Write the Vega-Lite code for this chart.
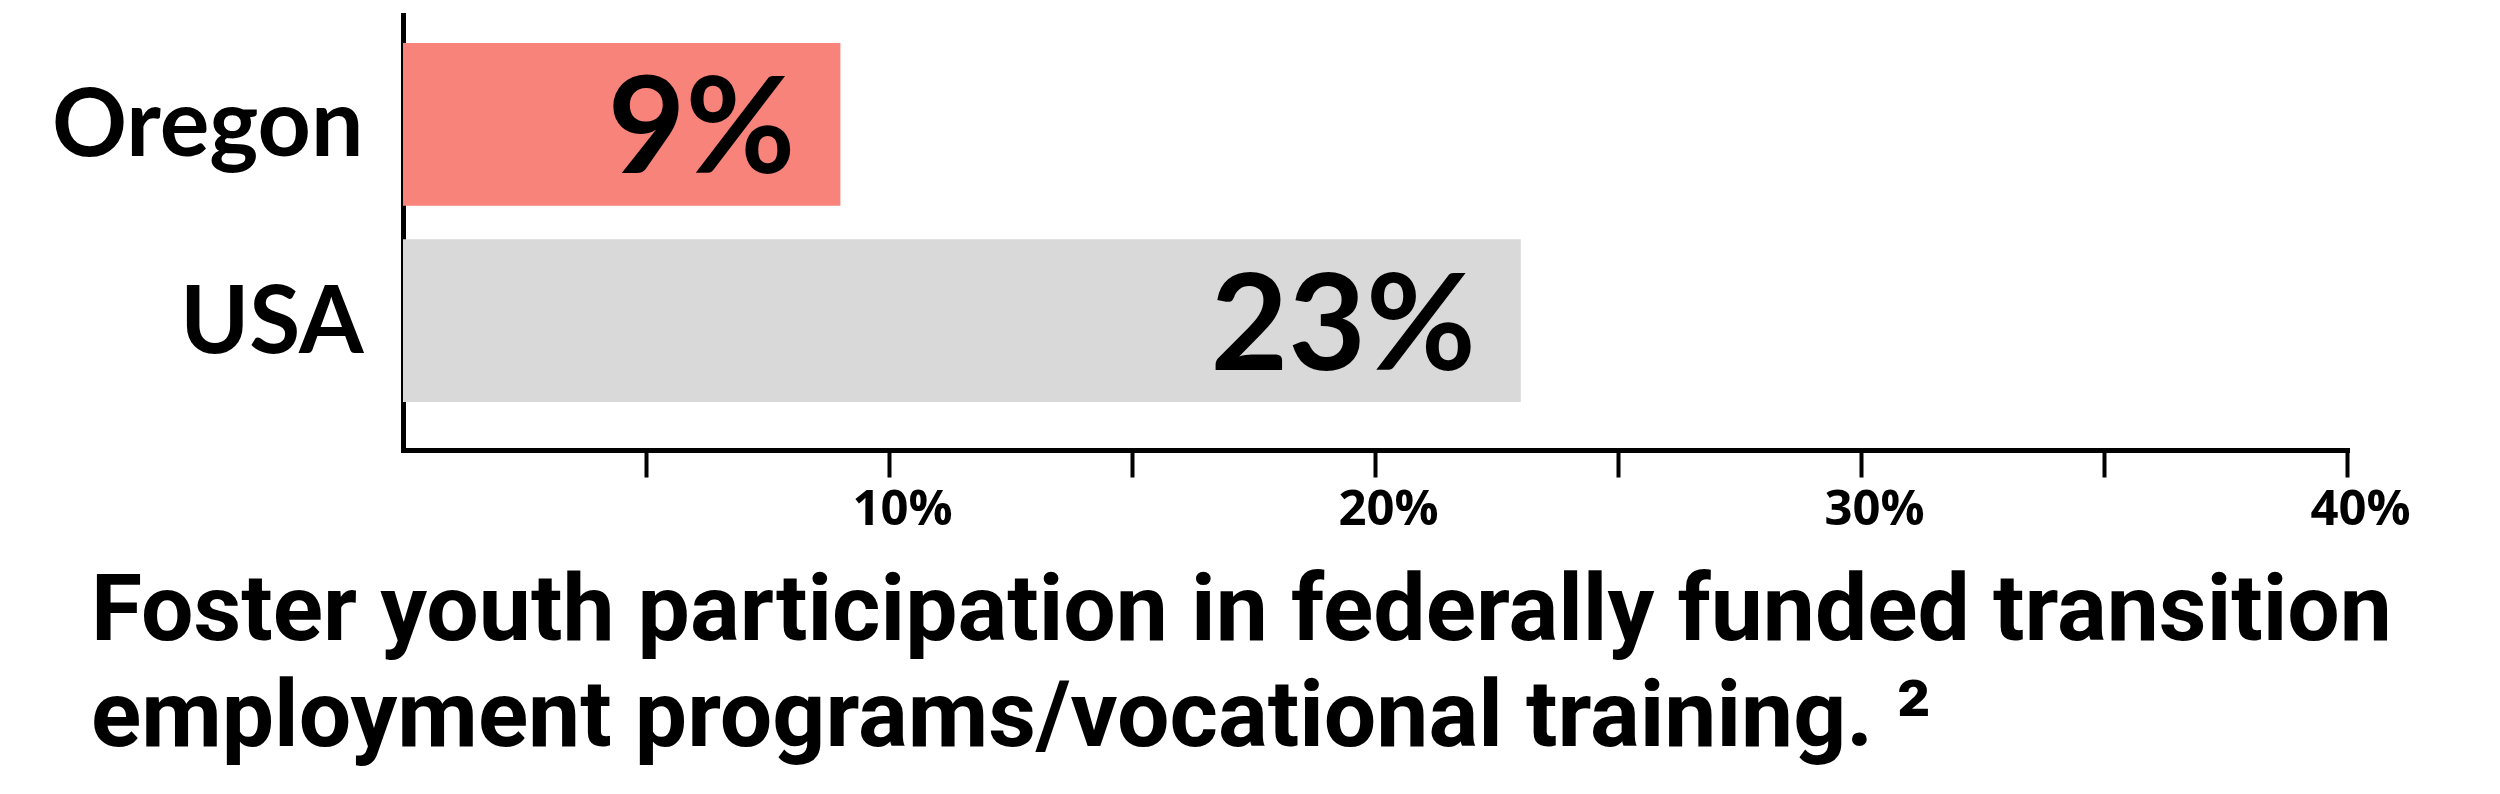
{
  "$schema": "https://vega.github.io/schema/vega-lite/v6.json",
  "autosize": {"type": "none"},
  "padding": {"left": 403, "top": 15, "right": 153, "bottom": 344},
  "width": 1944,
  "height": 435,
  "background": "white",
  "config": {"view": {"stroke": null}, "font": "Lato"},
  "title": {
    "text": ["Foster youth participation in federally funded transition", "employment programs/vocational training. ²"],
    "orient": "bottom",
    "anchor": "start",
    "frame": "group",
    "dx": -312,
    "offset": 33,
    "font": "Roboto",
    "fontSize": 93,
    "fontWeight": "bold",
    "color": "#000000",
    "lineHeight": 106
  },
  "data": {
    "values": [
      {"region": "Oregon", "pct": 9, "label": "9%"},
      {"region": "USA", "pct": 23, "label": "23%"}
    ]
  },
  "encoding": {
    "y": {
      "field": "region",
      "type": "nominal",
      "sort": ["Oregon", "USA"],
      "scale": {"paddingInner": 0.17, "paddingOuter": 0.1935, "align": 0.368},
      "axis": {
        "title": null,
        "ticks": false,
        "tickSize": 0,
        "labelPadding": 40,
        "labelLimit": 0,
        "labelFont": "Lato",
        "labelFontSize": 93,
        "labelFontWeight": "bold",
        "labelColor": "#000000",
        "labelOffset": 4,
        "domainColor": "#000000",
        "domainWidth": 5,
        "domainCap": "square",
        "grid": false
      }
    },
    "x": {
      "field": "pct",
      "type": "quantitative",
      "scale": {"domain": [0, 40], "nice": false},
      "axis": {
        "title": null,
        "values": [5, 10, 15, 20, 25, 30, 35, 40],
        "labelExpr": "datum.value % 10 === 0 ? datum.value + '%' : ''",
        "grid": false,
        "tickSize": 27,
        "tickWidth": 4,
        "tickColor": "#000000",
        "domainColor": "#000000",
        "domainWidth": 5,
        "domainCap": "square",
        "labelPadding": 8,
        "labelFont": "Open Sans",
        "labelFontSize": 49,
        "labelFontWeight": "bold",
        "labelColor": "#000000",
        "labelOffset": 13,
        "labelFlush": false,
        "labelOverlap": false
      }
    }
  },
  "layer": [
    {
      "mark": {"type": "bar"},
      "encoding": {
        "color": {
          "field": "region",
          "type": "nominal",
          "scale": {"domain": ["Oregon", "USA"], "range": ["#F7837A", "#D9D9D9"]},
          "legend": null
        }
      }
    },
    {
      "mark": {"type": "text", "align": "right", "baseline": "middle", "dx": -45, "dy": 9, "font": "Lato", "fontSize": 134, "fontWeight": "bold", "color": "#000000"},
      "encoding": {"text": {"field": "label", "type": "nominal"}}
    }
  ]
}
